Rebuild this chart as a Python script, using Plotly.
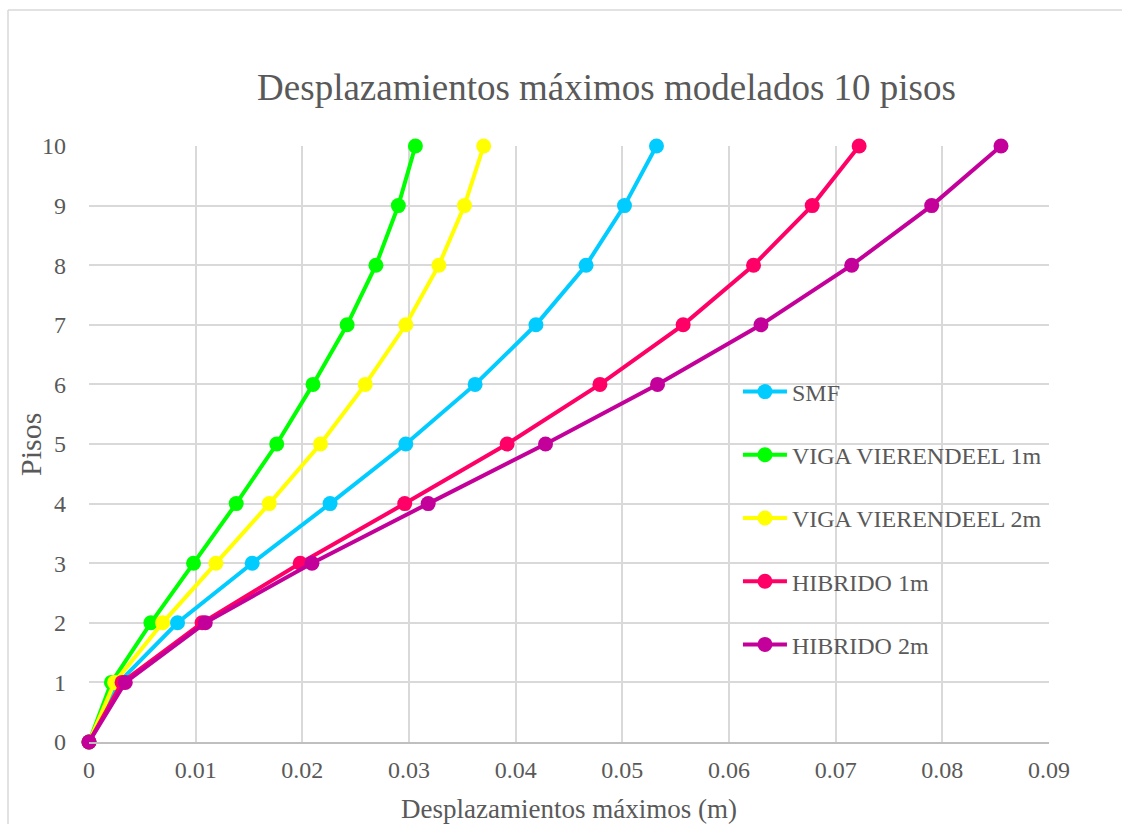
import plotly.graph_objects as go

pisos = list(range(0, 11))

smf = [0, 0.0028, 0.0083, 0.0153, 0.0226, 0.0297, 0.0362, 0.0419, 0.0466, 0.0502, 0.0532]
viga_1m = [0, 0.0021, 0.0058, 0.0098, 0.0138, 0.0176, 0.0210, 0.0242, 0.0269, 0.0290, 0.0306]
viga_2m = [0, 0.0024, 0.0069, 0.0119, 0.0169, 0.0217, 0.0259, 0.0297, 0.0328, 0.0352, 0.0370]
hibrido_1m = [0, 0.0031, 0.0106, 0.0198, 0.0296, 0.0392, 0.0479, 0.0557, 0.0623, 0.0678, 0.0722]
hibrido_2m = [0, 0.0034, 0.0109, 0.0209, 0.0318, 0.0428, 0.0533, 0.0630, 0.0715, 0.0790, 0.0855]

series_names = ["SMF", "VIGA VIERENDEEL 1m", "VIGA VIERENDEEL 2m", "HIBRIDO 1m", "HIBRIDO 2m"]
series_values = [smf, viga_1m, viga_2m, hibrido_1m, hibrido_2m]
series_colors = ["#00CCFF", "#00FF00", "#FFFF00", "#FF0066", "#C4009A"]

x_ticks = [0, 0.01, 0.02, 0.03, 0.04, 0.05, 0.06, 0.07, 0.08, 0.09]
x_tick_labels = ["0", "0.01", "0.02", "0.03", "0.04", "0.05", "0.06", "0.07", "0.08", "0.09"]

FONT = "Liberation Serif"
TXT = "#595959"

W, H = 1122, 824
L, R, T, B = 89, 73, 146, 82
PW, PH = W - L - R, H - T - B


def px_to_paper_x(px):
    return (px - L) / PW


def px_to_paper_y(py):
    return (H - B - py) / PH


fig = go.Figure()
for i, (name, vals, col) in enumerate(zip(series_names, series_values, series_colors)):
    fig.add_trace(go.Scatter(
        x=vals, y=pisos, name=name, mode="lines+markers",
        line=dict(color=col, width=4),
        marker=dict(color=col, size=15),
        cliponaxis=False,
        legendgroup=f"g{i}",
    ))

frame_color = "#D9D9D9"
fig.update_layout(
    width=W, height=H,
    margin=dict(l=L, r=R, t=T, b=B, autoexpand=False),
    paper_bgcolor="white", plot_bgcolor="white",
    font=dict(family=FONT, color=TXT, size=24),
    title=dict(text="Desplazamientos máximos modelados 10 pisos",
               x=606.5 / W, xanchor="center", y=1 - 87 / H, yanchor="middle",
               font=dict(family=FONT, size=37, color=TXT)),
    showlegend=True,
    legend=dict(x=0.676, y=0.625, xanchor="left", yanchor="top",
                bgcolor="rgba(0,0,0,0)", tracegroupgap=29, itemwidth=44,
                font=dict(family=FONT, size=24, color=TXT)),
    xaxis=dict(range=[0, 0.09], tickvals=x_ticks, ticktext=x_tick_labels,
               tickfont=dict(family=FONT, size=24, color=TXT),
               showgrid=True, gridcolor="#D9D9D9", gridwidth=1.5,
               zeroline=False, showline=True, linecolor="#BFBFBF", linewidth=1.5,
               ticks="", ticklabelstandoff=5, automargin=False,
               title=dict(text="Desplazamientos máximos (m)", standoff=20,
                          font=dict(family=FONT, size=27, color=TXT))),
    yaxis=dict(range=[0, 10], dtick=1, showgrid=True, gridcolor="#D9D9D9", gridwidth=1.5,
               tickfont=dict(family=FONT, size=24, color=TXT),
               zeroline=False, showline=False, ticks="", ticklabelstandoff=22,
               automargin=False),
    annotations=[
        dict(text="Pisos", textangle=-90, xref="paper", yref="paper",
             x=px_to_paper_x(30), y=px_to_paper_y(445),
             xanchor="center", yanchor="middle", showarrow=False,
             font=dict(family=FONT, size=30, color=TXT)),
    ],
    shapes=[
        dict(type="line", xref="paper", yref="paper",
             x0=px_to_paper_x(8), x1=px_to_paper_x(W + 20),
             y0=px_to_paper_y(10), y1=px_to_paper_y(10),
             line=dict(color=frame_color, width=1.5), layer="below"),
        dict(type="line", xref="paper", yref="paper",
             x0=px_to_paper_x(8), x1=px_to_paper_x(8),
             y0=px_to_paper_y(10), y1=px_to_paper_y(H + 20),
             line=dict(color=frame_color, width=1.5), layer="below"),
    ],
)

fig.write_html(
    "out.html",
    config={"displayModeBar": False},
    post_script="document.body.style.margin='0';document.body.style.overflow='hidden';",
)
